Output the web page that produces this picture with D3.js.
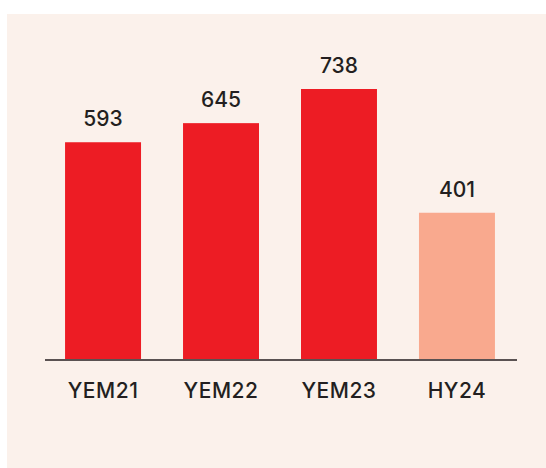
<!DOCTYPE html>
<html>
<head>
<meta charset="utf-8">
<script src="https://cdn.jsdelivr.net/npm/d3@7"></script>
<style>
  body { margin: 0; background: #ffffff; }
  svg { display: block; }
</style>
</head>
<body>
<svg id="chart" width="546" height="468"></svg>
<script>
var categories = ["YEM21", "YEM22", "YEM23", "HY24"];
var values = [593, 645, 738, 401];
var barColors = ["#ED1C24", "#ED1C24", "#ED1C24", "#F9A98E"];

var svg = d3.select("#chart");

// panel background
svg.append("rect")
  .attr("x", 7)
  .attr("y", 14)
  .attr("width", 546 - 7)
  .attr("height", 468 - 14)
  .attr("fill", "#FBF1EB");

var baseline = 360;

var xScale = d3.scaleBand()
  .domain(categories)
  .range([45, 515])
  .paddingInner(0.356)
  .paddingOuter(0.17);

var yScale = d3.scaleLinear()
  .domain([0, 738])
  .range([baseline, 89]);

var plot = svg.append("g");

plot.selectAll(".bar")
  .data(values)
  .enter()
  .append("rect")
  .attr("class", "bar")
  .attr("x", function(d, i) { return xScale(categories[i]); })
  .attr("width", xScale.bandwidth())
  .attr("y", function(d) { return yScale(d); })
  .attr("height", function(d) { return baseline - yScale(d); })
  .attr("fill", function(d, i) { return barColors[i]; });

plot.selectAll(".value-label")
  .data(values)
  .enter()
  .append("text")
  .attr("class", "value-label")
  .attr("text-anchor", "middle")
  .attr("x", function(d, i) { return xScale(categories[i]) + xScale.bandwidth() / 2; })
  .attr("y", function(d) { return yScale(d) - 16; })
  .attr("font-family", "Inter, sans-serif")
  .attr("font-size", "21px")
  .attr("font-weight", 500)
  .attr("fill", "#231F20")
  .text(function(d) { return d; });

// x axis
var xAxis = d3.axisBottom(xScale).tickSize(0).tickPadding(23);

var axisG = plot.append("g")
  .attr("transform", "translate(0," + baseline + ")")
  .call(xAxis);

axisG.select(".domain")
  .attr("stroke", "#5A5252")
  .attr("stroke-width", 2)
  .attr("d", "M45,0H517");

axisG.selectAll("text")
  .attr("font-family", "Inter, sans-serif")
  .attr("font-size", "21px")
  .attr("font-weight", 500)
  .attr("letter-spacing", "0.5px")
  .attr("fill", "#231F20");
</script>
</body>
</html>
